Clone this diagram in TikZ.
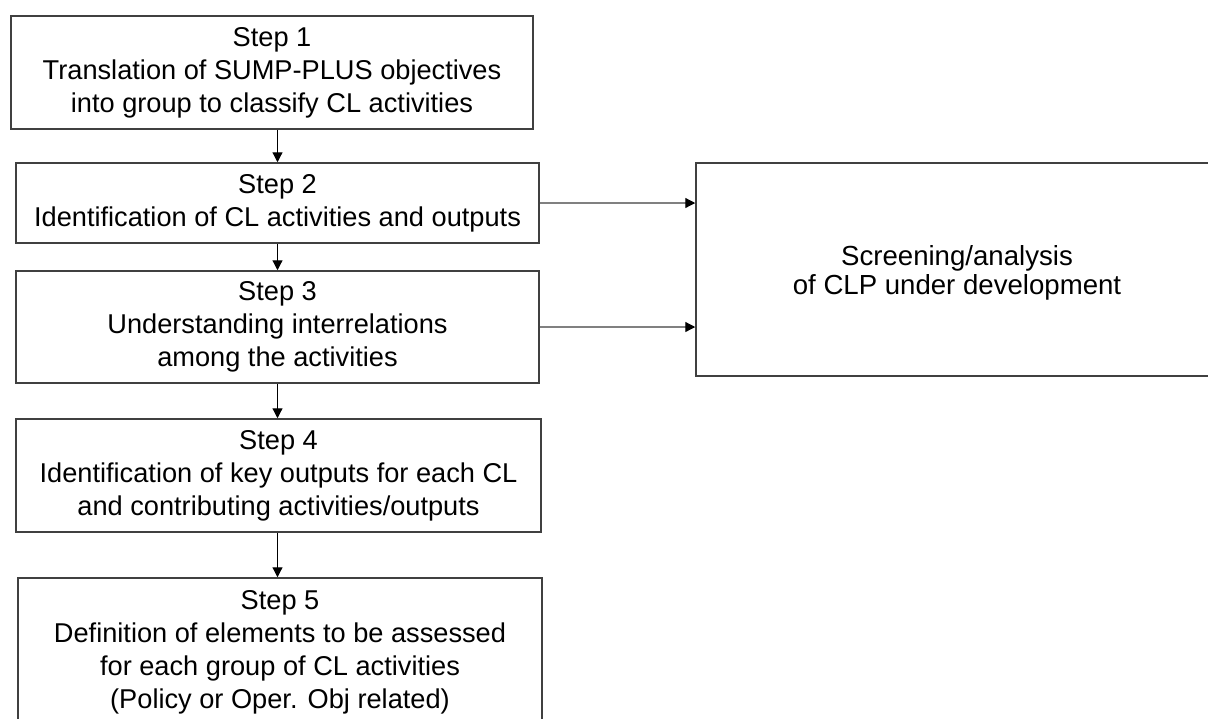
\documentclass[tikz,border=0pt]{standalone}
\usepackage{fontspec}
\setmainfont{Liberation Sans}
\usetikzlibrary{arrows.meta}

\begin{document}
\begin{tikzpicture}[x=0.5pt,y=-0.5pt]
\definecolor{boxgrey}{RGB}{64,64,64}
\definecolor{linegrey}{RGB}{128,128,128}
\tikzset{
  stepbox/.style={draw=boxgrey, line width=0.75pt, inner sep=0pt, align=center,
    font=\fontsize{13.6}{16.5}\selectfont},
  flow/.style={line width=0.6pt, -{Triangle[length=5pt,width=5pt]}}
}
\useasboundingbox (0,0) rectangle (1208,718);

\node[stepbox, minimum width=261pt, minimum height=56.5pt] (s1) at (272, 72.5)
  {Step 1\\Translation of SUMP-PLUS objectives\\into group to classify CL activities}; % Step.1
\node[stepbox, minimum width=261.5pt, minimum height=40pt] (s2) at (277.5, 203)
  {Step 2\\Identification of CL activities and outputs}; % Step.2
\node[stepbox, minimum width=261.5pt, minimum height=56pt] (s3) at (277.5, 327)
  {Step 3\\Understanding interrelations\\among the activities}; % Step.3
\node[stepbox, minimum width=262.5pt, minimum height=56.5pt] (s4) at (278.5, 475.5)
  {Step 4\\Identification of key outputs for each CL\\and contributing activities/outputs}; % Step.4
\node[stepbox, minimum width=262pt, minimum height=74pt] (s5) at (280, 652)
  {Step 5\\Definition of elements to be assessed\\for each group of CL activities\\(Policy or Oper. Obj related)}; % Step.5
\node[stepbox, minimum width=261pt, minimum height=106.5pt,
  font=\fontsize{13.8}{14.8}\selectfont] (clp) at (957, 269.5)
  {\\[-1.5pt]Screening/analysis\\of CLP under development}; % CLP

\draw[flow] (s2.north |- s1.south) -- (s2.north) ; % s1 to s2
\draw[flow] (s2.south) -- (s3.north) ; % s2 to s3
\draw[flow] (s3.south) -- (s3.south |- s4.north) ; % s3 to s4
\draw[flow] (s3.south |- s4.south) -- (s3.south |- s5.north) ; % s4 to s5
\draw[flow, linegrey, -{Triangle[length=5pt,width=5pt,black]}] (s2.east) -- (s2.east -| clp.west) ; % s2 to clp
\draw[flow, linegrey, -{Triangle[length=5pt,width=5pt,black]}] (s3.east) -- (s3.east -| clp.west) ; % s3 to clp
\end{tikzpicture}
\end{document}
